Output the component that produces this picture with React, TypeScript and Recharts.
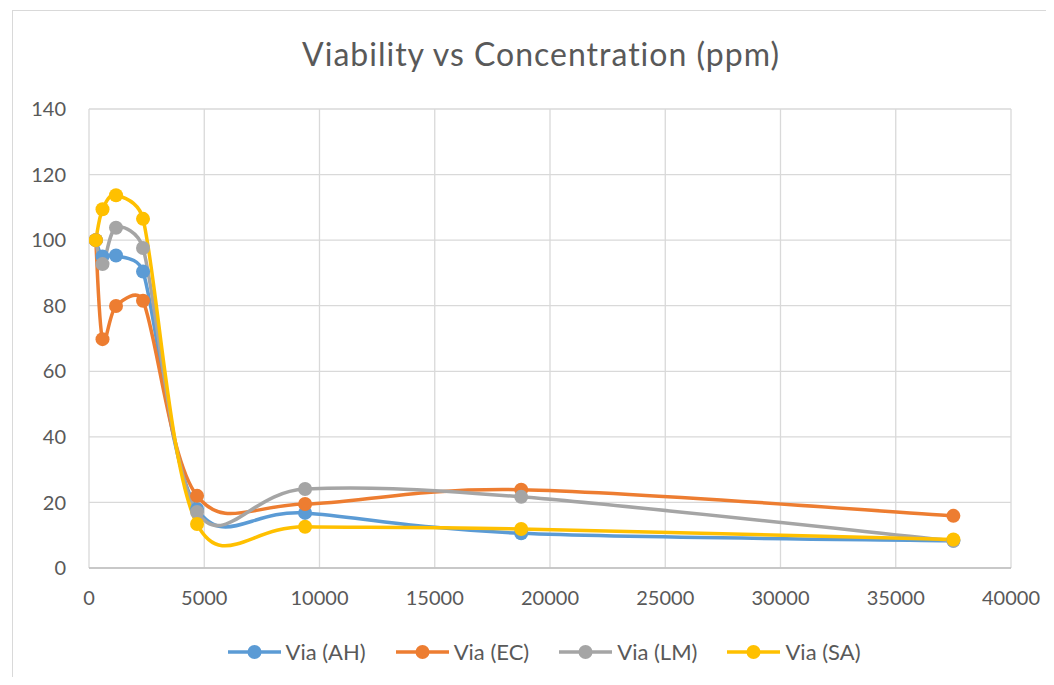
import React from "react";
import {
  LineChart,
  Line,
  XAxis,
  YAxis,
  CartesianGrid,
  Legend,
} from "recharts";

const X_VALUES = [292.97, 585.94, 1171.88, 2343.75, 4687.5, 9375, 18750, 37500];
const VIA_AH = [100, 95.0, 95.3, 90.4, 18.0, 16.8, 10.6, 8.3];
const VIA_EC = [100, 69.8, 79.9, 81.5, 22.0, 19.5, 23.9, 15.9];
const VIA_LM = [100, 92.7, 103.8, 97.6, 17.1, 24.1, 21.7, 8.3];
const VIA_SA = [100, 109.4, 113.7, 106.5, 13.4, 12.6, 11.9, 8.7];

const SERIES_NAMES = ["Via (AH)", "Via (EC)", "Via (LM)", "Via (SA)"];
const SERIES_KEYS = ["ah", "ec", "lm", "sa"];
const SERIES_COLORS = ["#5B9BD5", "#ED7D31", "#A5A5A5", "#FFC000"];
const X_TICKS = [0, 5000, 10000, 15000, 20000, 25000, 30000, 35000, 40000];
const Y_TICKS = [0, 20, 40, 60, 80, 100, 120, 140];
const TITLE = "Viability vs Concentration (ppm)";

const data = X_VALUES.map((x, i) => ({
  x,
  ah: VIA_AH[i],
  ec: VIA_EC[i],
  lm: VIA_LM[i],
  sa: VIA_SA[i],
}));

const FONT = "Lato, 'Open Sans', sans-serif";
const TEXT_COLOR = "#595959";

// Excel-like smoothed line: Catmull-Rom Bezier with control offsets capped at half the segment length
const excelSmooth = (context: any) => {
  let pts: number[][] = [];
  const cap = (dx: number, dy: number, maxLen: number) => {
    const len = Math.hypot(dx, dy);
    if (len > maxLen && len > 0) {
      const s = maxLen / len;
      return [dx * s, dy * s];
    }
    return [dx, dy];
  };
  return {
    areaStart() {},
    areaEnd() {},
    lineStart() {
      pts = [];
    },
    point(x: number, y: number) {
      pts.push([+x, +y]);
    },
    lineEnd() {
      const n = pts.length;
      if (!n) return;
      context.moveTo(pts[0][0], pts[0][1]);
      for (let i = 0; i < n - 1; i++) {
        const p0 = pts[i - 1] || pts[i];
        const p1 = pts[i];
        const p2 = pts[i + 1];
        const p3 = pts[i + 2] || pts[i + 1];
        const seg = Math.hypot(p2[0] - p1[0], p2[1] - p1[1]);
        const o1 = cap((p2[0] - p0[0]) / 6, (p2[1] - p0[1]) / 6, seg / 2);
        const o2 = cap((p3[0] - p1[0]) / 6, (p3[1] - p1[1]) / 6, seg / 2);
        context.bezierCurveTo(
          p1[0] + o1[0],
          p1[1] + o1[1],
          p2[0] - o2[0],
          p2[1] - o2[1],
          p2[0],
          p2[1]
        );
      }
    },
  };
};

const LegendContent = () => (
  <div
    style={{
      display: "flex",
      justifyContent: "center",
      alignItems: "center",
      fontFamily: FONT,
      fontSize: 22,
      color: TEXT_COLOR,
      paddingLeft: 0,
    }}
  >
    {SERIES_NAMES.map((name, i) => (
      <div key={name} style={{ display: "flex", alignItems: "center", marginRight: i < 3 ? 30 : 0 }}>
        <svg width={53} height={16} style={{ marginRight: 5 }}>
          <line x1={0} y1={8} x2={53} y2={8} stroke={SERIES_COLORS[i]} strokeWidth={3.5} />
          <circle cx={26.5} cy={8} r={7} fill={SERIES_COLORS[i]} />
        </svg>
        <span>{name}</span>
      </div>
    ))}
  </div>
);

export default function App() {
  return (
    <div style={{ position: "relative", margin: -8, width: 1054, height: 685, background: "#fff", overflow: "hidden" }}>
      <div
        style={{
          position: "absolute",
          left: 12,
          top: 10,
          width: 1100,
          height: 720,
          border: "1.5px solid #d9d9d9",
          boxSizing: "border-box",
        }}
      />
      <div
        style={{
          position: "absolute",
          left: 0,
          width: 1082,
          top: 35,
          textAlign: "center",
          fontFamily: FONT,
          fontSize: 32,
          letterSpacing: 1,
          color: TEXT_COLOR,
          lineHeight: "38px",
        }}
      >
        {TITLE}
      </div>
      <div style={{ position: "absolute", left: 0, top: 0 }}>
        <LineChart
          width={1054}
          height={685}
          data={data}
          margin={{ top: 109, right: 43, left: 0, bottom: 77 }}
        >
          <CartesianGrid stroke="#d9d9d9" strokeWidth={1.3} />
          <XAxis
            type="number"
            dataKey="x"
            domain={[0, 40000]}
            ticks={X_TICKS}
            interval={0}
            height={40}
            tickSize={0}
            tickMargin={23}
            axisLine={{ stroke: "#bfbfbf", strokeWidth: 1.5 }}
            tick={{ fontSize: 20, fill: TEXT_COLOR, fontFamily: FONT }}
            allowDataOverflow
          />
          <YAxis
            type="number"
            domain={[0, 140]}
            ticks={Y_TICKS}
            interval={0}
            width={89}
            tickSize={0}
            tickMargin={23}
            axisLine={false}
            tick={{ fontSize: 20, fill: TEXT_COLOR, fontFamily: FONT }}
          />
          <Legend
            layout="horizontal"
            verticalAlign="middle"
            align="center"
            content={<LegendContent />}
            wrapperStyle={{ position: "absolute", top: 638, left: 0, width: 1088, height: 26 }}
          />
          {SERIES_KEYS.map((k, i) => (
            <Line
              key={k}
              dataKey={k}
              name={SERIES_NAMES[i]}
              type={excelSmooth as any}
              stroke={SERIES_COLORS[i]}
              strokeWidth={3.5}
              dot={{ r: 7, fill: SERIES_COLORS[i], stroke: SERIES_COLORS[i], strokeWidth: 0 }}
              activeDot={false}
              isAnimationActive={false}
            />
          ))}
        </LineChart>
      </div>
    </div>
  );
}
